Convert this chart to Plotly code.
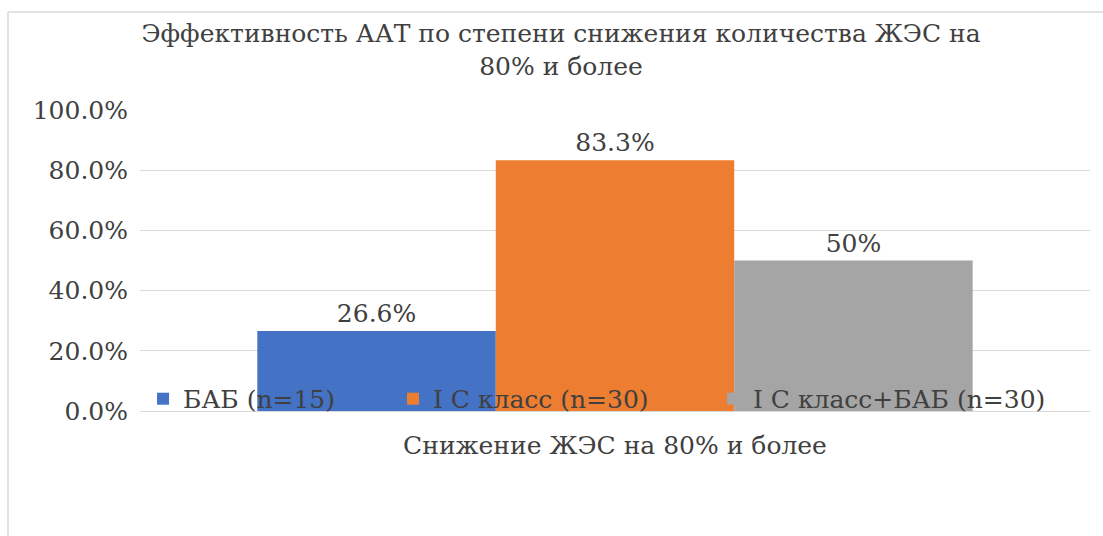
import plotly.graph_objects as go

category = ["Снижение ЖЭС на 80% и более"]
series_names = ["БАБ (n=15)", "I C класс (n=30)", "I C класс+БАБ (n=30)"]
series_values = [26.6, 83.3, 50.0]
series_labels = ["26.6%", "83.3%", "50%"]
series_colors = ["#4472C4", "#ED7D31", "#A5A5A5"]
y_ticks = [0, 20, 40, 60, 80, 100]
y_tick_labels = ["0.0%", "20.0%", "40.0%", "60.0%", "80.0%", "100.0%"]
title_text = "Эффективность ААТ по степени снижения количества ЖЭС на<br>80% и более"

FONT = "DejaVu Serif"
TXT = "#404040"
FS = 25

legend_ids = ["legend", "legend2", "legend3"]
legend_x = [0.0032, 0.2663, 0.6032]

fig = go.Figure()
for name, val, lab, col, lid in zip(series_names, series_values, series_labels, series_colors, legend_ids):
    fig.add_trace(go.Bar(
        x=category, y=[val], name=name, marker_color=col, marker_line_width=0,
        text=[lab], textposition="outside", cliponaxis=False,
        textfont=dict(family=FONT, size=FS, color=TXT), legend=lid,
    ))

W, H = 1103, 536
L, R, T, B = 140, 13, 110, 125
pw, ph = W - L - R, H - T - B

def px(xp):
    return (xp - L) / pw

def py(yp):
    return (H - B - yp) / ph

legend_style = dict(orientation="h", xanchor="left", y=0.04, yanchor="middle",
                    bgcolor="rgba(0,0,0,0)", font=dict(family=FONT, size=FS, color=TXT),
                    itemwidth=30)

fig.update_layout(
    width=W, height=H,
    margin=dict(l=L, r=R, t=T, b=B),
    paper_bgcolor="white", plot_bgcolor="white",
    barmode="group", bargap=0.247, bargroupgap=0,
    title=dict(text=title_text, x=561 / W, xanchor="center", xref="container",
               y=1 - 42 / H, yanchor="middle", yref="container",
               font=dict(family=FONT, size=FS, color=TXT)),
    showlegend=True,
    font=dict(family=FONT, color=TXT),
    shapes=[
        dict(type="line", xref="paper", yref="paper", x0=px(8), x1=px(8), y0=py(H), y1=py(12),
             line=dict(color="#D9D9D9", width=1.5)),
        dict(type="line", xref="paper", yref="paper", x0=px(8), x1=px(W), y0=py(12), y1=py(12),
             line=dict(color="#D9D9D9", width=1.5)),
    ],
)
for lid, lx in zip(legend_ids, legend_x):
    fig.update_layout({lid: dict(legend_style, x=lx)})

fig.update_yaxes(range=[0, 100], tickvals=y_ticks, ticktext=y_tick_labels,
                 showgrid=True, gridcolor="#D9D9D9", gridwidth=1, zeroline=False,
                 showline=False, ticks="outside", ticklen=6, tickcolor="rgba(0,0,0,0)",
                 tickfont=dict(family=FONT, size=FS, color=TXT))
fig.update_xaxes(showline=True, linecolor="#D9D9D9", linewidth=1, showgrid=False,
                 ticks="outside", ticklen=12, tickcolor="rgba(0,0,0,0)",
                 tickfont=dict(family=FONT, size=FS, color=TXT))

fig.write_html("out.html")
